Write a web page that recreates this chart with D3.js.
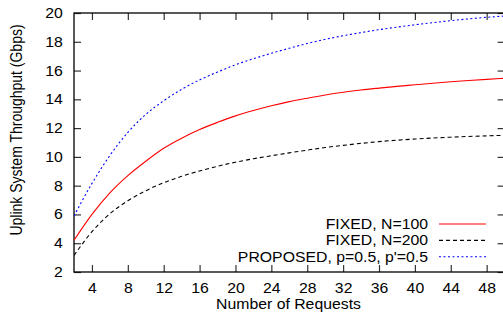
<!DOCTYPE html>
<html>
<head>
<meta charset="utf-8">
<script src="https://cdn.jsdelivr.net/npm/d3@7"></script>
<style>
  body { margin: 0; background: #fff; }
  text { font-family: "Liberation Sans", Arial, sans-serif; fill: #000; }
</style>
</head>
<body>
<svg id="chart" width="503" height="325"></svg>
<script>
// number of requests
const requests = [2, 4, 6, 8, 10, 12, 14, 16, 18, 20, 22, 24, 26, 28, 30, 32, 34, 36, 38, 40, 42, 44, 46, 48, 50];

// throughput, Gbps
const fixed100 = [4.2, 6.0, 7.5, 8.7, 9.7, 10.6, 11.3, 11.9, 12.4, 12.85, 13.22, 13.55, 13.84, 14.08, 14.3, 14.49, 14.65, 14.78, 14.9, 15.01, 15.12, 15.22, 15.31, 15.39, 15.46];
const fixed200 = [3.15, 4.8, 6.05, 6.95, 7.65, 8.2, 8.65, 9.02, 9.35, 9.63, 9.87, 10.08, 10.28, 10.47, 10.65, 10.8, 10.94, 11.06, 11.16, 11.24, 11.31, 11.37, 11.42, 11.46, 11.5];
const proposed = [5.9, 8.15, 10.1, 11.7, 12.95, 13.9, 14.7, 15.35, 15.9, 16.4, 16.82, 17.2, 17.55, 17.88, 18.17, 18.42, 18.64, 18.84, 19.02, 19.18, 19.33, 19.47, 19.59, 19.7, 19.79];

const seriesNames = ['FIXED, N=100', 'FIXED, N=200', "PROPOSED, p=0.5, p'=0.5"];
const xTicks = [4, 8, 12, 16, 20, 24, 28, 32, 36, 40, 44, 48];
const yTicks = [2, 4, 6, 8, 10, 12, 14, 16, 18, 20];

const svg = d3.select('#chart');
const plotLeft = 74, plotRight = 504.6, plotTop = 13, plotBottom = 272;
const stretch = 1.13; // text in the figure is a bit wide

const x = d3.scaleLinear().domain([2, 50]).range([plotLeft, plotRight]);
const y = d3.scaleLinear().domain([2, 20]).range([plotBottom, plotTop]);

svg.append('clipPath').attr('id', 'plot')
  .append('rect')
  .attr('x', plotLeft).attr('y', plotTop)
  .attr('width', plotRight - plotLeft).attr('height', plotBottom - plotTop);

// axes, ticks pointing inward
const bottomAxis = svg.append('g')
  .attr('transform', `translate(0,${plotBottom})`)
  .call(d3.axisBottom(x).tickValues(xTicks).tickSizeInner(-7).tickSizeOuter(0).tickPadding(11));
const topAxis = svg.append('g')
  .attr('transform', `translate(0,${plotTop})`)
  .call(d3.axisTop(x).tickValues(xTicks).tickSizeInner(-7).tickSizeOuter(0).tickFormat(''));
const leftAxis = svg.append('g')
  .attr('transform', `translate(${plotLeft},0)`)
  .call(d3.axisLeft(y).tickValues(yTicks).tickSizeInner(-7).tickSizeOuter(0).tickPadding(9));
const rightAxis = svg.append('g')
  .attr('transform', `translate(${plotRight},0)`)
  .call(d3.axisRight(y).tickValues(yTicks).tickSizeInner(-7).tickSizeOuter(0).tickFormat(''));

svg.selectAll('.domain').remove();
svg.selectAll('.tick line').attr('stroke', '#333').attr('stroke-width', 1.2);
svg.selectAll('.tick text')
  .attr('font-size', 14)
  .attr('font-family', '"Liberation Sans", Arial, sans-serif')
  .attr('transform', `scale(${stretch},1)`);
leftAxis.selectAll('.tick text').attr('x', -9 / stretch - 2);

// frame
svg.append('rect')
  .attr('x', plotLeft).attr('y', plotTop)
  .attr('width', plotRight - plotLeft).attr('height', plotBottom - plotTop)
  .attr('fill', 'none')
  .attr('stroke', '#000')
  .attr('stroke-width', 1.3);

// curves
const line = d3.line()
  .x(d => x(d[0]))
  .y(d => y(d[1]))
  .curve(d3.curveMonotoneX);

const series = [
  {name: seriesNames[0], values: fixed100, color: '#ff0000', dash: null},
  {name: seriesNames[1], values: fixed200, color: '#000000', dash: '4,3'},
  {name: seriesNames[2], values: proposed, color: '#0000ff', dash: '2,2.5'}
];

const curves = svg.append('g').attr('clip-path', 'url(#plot)');
series.forEach(s => {
  curves.append('path')
    .datum(requests.map((n, i) => [n, s.values[i]]))
    .attr('d', line)
    .attr('fill', 'none')
    .attr('stroke', s.color)
    .attr('stroke-width', 1.1)
    .attr('stroke-dasharray', s.dash);
});

// legend
const legend = svg.append('g');
series.forEach((s, i) => {
  const ly = 224 + i * 16.4;
  legend.append('text')
    .attr('transform', `translate(428,${ly + 5}) scale(${stretch},1)`)
    .attr('text-anchor', 'end')
    .attr('font-size', 14)
    .text(s.name);
  legend.append('line')
    .attr('x1', 439).attr('x2', 486)
    .attr('y1', ly).attr('y2', ly)
    .attr('stroke', s.color)
    .attr('stroke-width', 1.1)
    .attr('stroke-dasharray', s.dash);
});

// axis titles
svg.append('text')
  .attr('transform', `translate(${(plotLeft + 503) / 2},309) scale(${stretch},1)`)
  .attr('text-anchor', 'middle')
  .attr('font-size', 14)
  .text('Number of Requests');

svg.append('text')
  .attr('transform', `translate(22,130) rotate(-90) scale(1,${stretch})`)
  .attr('text-anchor', 'middle')
  .attr('font-size', 14)
  .text('Uplink System Throughput (Gbps)');
</script>
</body>
</html>
